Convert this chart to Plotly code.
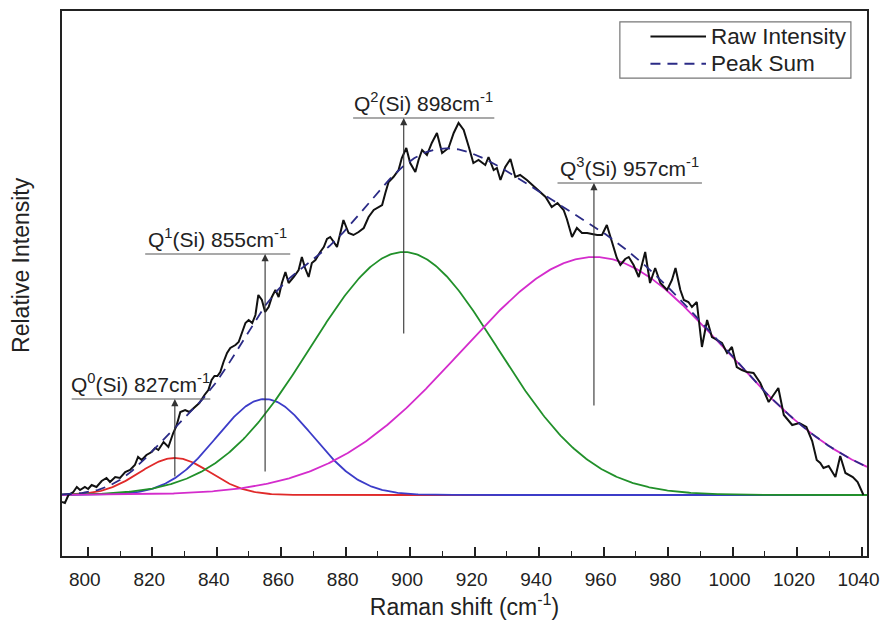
import numpy as np
import plotly.graph_objects as go

# Measured Raman spectrum (relative intensity, arbitrary units)
raw_shift = [
    792.0, 792.9, 794.0, 795.5, 796.6, 797.6, 799.1, 800.1, 801.2, 802.7,
    804.3, 805.8, 806.9, 808.5, 810.0, 811.6, 813.1, 814.6, 815.6, 816.7,
    818.2, 819.8, 820.9, 821.9, 823.5, 825.0, 826.5, 827.5, 828.7, 830.2,
    831.5, 833.0, 834.6, 836.2, 837.4, 838.4, 839.3, 840.2, 841.1, 842.1,
    843.2, 844.2, 845.8, 846.8, 847.9, 848.9, 849.9, 851.0, 852.0, 852.9,
    854.0, 855.0, 856.1, 857.1, 858.2, 859.2, 860.2, 861.3, 862.3, 863.9,
    865.4, 866.4, 867.4, 868.5, 869.5, 870.6, 872.1, 873.2, 874.2, 875.2,
    876.3, 877.3, 879.3, 880.9, 882.4, 884.0, 885.6, 887.1, 888.7, 890.2,
    891.3, 892.3, 893.3, 894.8, 896.4, 897.4, 898.8, 900.0, 901.6, 902.6,
    903.7, 905.2, 906.7, 908.3, 909.9, 911.9, 913.5, 915.0, 916.6, 918.2,
    919.6, 921.2, 923.3, 924.3, 925.9, 926.9, 928.0, 929.5, 931.1, 932.6,
    934.1, 936.2, 938.2, 940.1, 942.0, 943.9, 945.7, 947.6, 948.6, 950.2,
    951.7, 953.3, 954.9, 956.4, 958.0, 959.5, 961.0, 962.6, 964.1, 965.2,
    966.7, 967.8, 969.3, 970.9, 972.9, 974.4, 976.0, 977.6, 979.7, 981.2,
    982.3, 983.8, 984.9, 986.3, 987.4, 988.9, 990.5, 992.1, 993.6, 995.2,
    996.7, 998.3, 999.8, 1001.3, 1002.9, 1004.5, 1006.5, 1008.6, 1011.2, 1014.2,
    1015.9, 1018.5, 1020.7, 1022.9, 1024.7, 1026.1, 1027.2, 1028.2, 1029.8, 1031.9,
    1033.4, 1035.0, 1037.3, 1038.8, 1040.6,
]
raw_intensity = [
    -7, -8, 0, 3, 8, 5, 8, 6, 10, 8,
    14, 17, 13, 18, 17, 23, 25, 30, 38, 35,
    40, 43, 47, 45, 53, 48, 62, 69, 83, 85,
    83, 87, 92, 100, 105, 115, 119, 119, 123, 133,
    142, 147, 150, 153, 163, 172, 175, 172, 180, 200,
    195, 183, 188, 198, 205, 198, 212, 223, 212, 218,
    225, 238, 227, 218, 232, 235, 243, 248, 256, 258,
    253, 248, 275, 262, 260, 263, 267, 278, 285, 288,
    290, 302, 313, 318, 325, 337, 347, 332, 323, 335,
    345, 340, 352, 362, 342, 347, 362, 372, 365, 348,
    332, 335, 330, 338, 325, 327, 315, 328, 336, 318,
    320, 315, 309, 304, 298, 288, 292, 285, 276, 258,
    267, 262, 262, 261, 260, 260, 270, 253, 237, 230,
    236, 238, 230, 218, 243, 212, 227, 212, 205, 215,
    227, 205, 195, 193, 188, 193, 148, 175, 158, 155,
    152, 142, 148, 128, 125, 123, 122, 112, 93, 107,
    80, 70, 72, 68, 54, 35, 32, 27, 29, 18,
    39, 22, 18, 13, 0,
]

# Fitted Gaussian components: Q0..Q3 silicate units
peak_names = ["Q<sup>0</sup>(Si) 827cm<sup>-1</sup>",
              "Q<sup>1</sup>(Si) 855cm<sup>-1</sup>",
              "Q<sup>2</sup>(Si) 898cm<sup>-1</sup>",
              "Q<sup>3</sup>(Si) 957cm<sup>-1</sup>"]
peak_centers = [827, 855, 898, 957]
peak_heights = [37, 96, 243, 238]
peak_sigmas = [11, 15, 29, 41]
peak_colors = ["#e02a2a", "#3c3cc8", "#21902a", "#d42ccc"]

# Marker arrows: bottom/top of the vertical arrow and span of the label rule
arrow_bottoms = [17, 22, 160, 88]
arrow_tops = [96, 241, 377, 312]
rule_left = [795.0, 817.8, 882.3, 945.7]
rule_right = [838.0, 862.8, 926.1, 990.5]

legend_names = ["Raw Intensity", "Peak Sum"]

x_range = [792.0, 1041.7]
y_range = [-61, 484]

RAW_COLOR = "#111111"
SUM_COLOR = "#2b2b86"
SUM_DASH = "10px,7px"
TEXT_COLOR = "#222222"

grid = np.linspace(x_range[0], x_range[1], 600)
components = [h * np.exp(-0.5 * ((grid - c) / s) ** 2)
              for c, h, s in zip(peak_centers, peak_heights, peak_sigmas)]
peak_sum = np.sum(components, axis=0)

fig = go.Figure()

for comp, col in zip(components, peak_colors):
    fig.add_trace(go.Scatter(x=grid, y=comp, mode="lines",
                             line=dict(color=col, width=1.8),
                             showlegend=False, hoverinfo="skip"))

fig.add_trace(go.Scatter(x=raw_shift, y=raw_intensity, mode="lines",
                         name=legend_names[0], showlegend=False,
                         line=dict(color=RAW_COLOR, width=2)))
fig.add_trace(go.Scatter(x=grid, y=peak_sum, mode="lines",
                         name=legend_names[1], showlegend=False,
                         line=dict(color=SUM_COLOR, width=1.8, dash=SUM_DASH)))

for name, c, yb, yt, xl, xr in zip(peak_names, peak_centers, arrow_bottoms,
                                   arrow_tops, rule_left, rule_right):
    # label rule
    fig.add_shape(type="line", x0=xl, x1=xr, y0=yt, y1=yt,
                  xref="x", yref="y", line=dict(color="#555555", width=1.2))
    # upward arrow at the peak position
    fig.add_annotation(x=c, y=yt, ax=c, ay=yb, xref="x", yref="y",
                       axref="x", ayref="y", text="", showarrow=True,
                       arrowhead=2, arrowsize=1.3, arrowwidth=1.1,
                       arrowcolor="#333333")
    fig.add_annotation(x=(xl + xr) / 2, y=yt, xref="x", yref="y",
                       text=name, showarrow=False, yanchor="bottom",
                       yshift=1,
                       font=dict(size=21, color=TEXT_COLOR))

# Legend box drawn in plot-area (paper) coordinates
fig.add_shape(type="rect", xref="paper", yref="paper",
              x0=0.693, x1=0.980, y0=0.877, y1=0.980,
              line=dict(color="#777777", width=1.2), fillcolor="white",
              layer="above")
legend_rows_y = [0.953, 0.903]
legend_styles = [dict(color=RAW_COLOR, width=2),
                 dict(color=SUM_COLOR, width=2, dash=SUM_DASH)]
for label, ly, style in zip(legend_names, legend_rows_y, legend_styles):
    fig.add_shape(type="line", xref="paper", yref="paper",
                  x0=0.731, x1=0.800, y0=ly, y1=ly, line=style,
                  layer="above")
    fig.add_annotation(x=0.804, y=ly, xref="paper", yref="paper",
                       text=label, showarrow=False, xanchor="left",
                       yanchor="middle",
                       font=dict(size=22.5, color=TEXT_COLOR))

# Vertical axis caption
fig.add_annotation(x=-0.051, y=0.534, xref="paper", yref="paper",
                   text="Relative Intensity", textangle=-90,
                   showarrow=False, xanchor="center", yanchor="middle",
                   font=dict(size=23, color=TEXT_COLOR))

fig.update_xaxes(
    range=x_range, showline=True, linecolor="#222222", linewidth=2,
    mirror=True, showgrid=False, zeroline=False, automargin=False,
    tickmode="linear", tick0=800, dtick=20, ticks="inside", ticklen=9,
    tickwidth=1.5, tickcolor="#222222",
    minor=dict(ticks="inside", ticklen=5, tickwidth=1.2, dtick=10,
               tick0=800, tickcolor="#222222"),
    tickfont=dict(size=19, color=TEXT_COLOR),
    ticklabelstandoff=5, ticklabelshift=-3, ticklabeloverflow="allow",
    title=dict(text="Raman shift (cm<sup>-1</sup>)",
               font=dict(size=23, color=TEXT_COLOR), standoff=10),
)
fig.update_yaxes(
    range=y_range, showline=True, linecolor="#222222", linewidth=2,
    mirror=True, showgrid=False, zeroline=False, showticklabels=False,
    ticks="", automargin=False,
)

fig.update_layout(
    width=880, height=626,
    margin=dict(l=62, r=13, t=11, b=70),
    plot_bgcolor="white", paper_bgcolor="white",
    font=dict(family="Liberation Sans, Arial, sans-serif"),
    showlegend=False,
)

fig.write_html("out.html")
